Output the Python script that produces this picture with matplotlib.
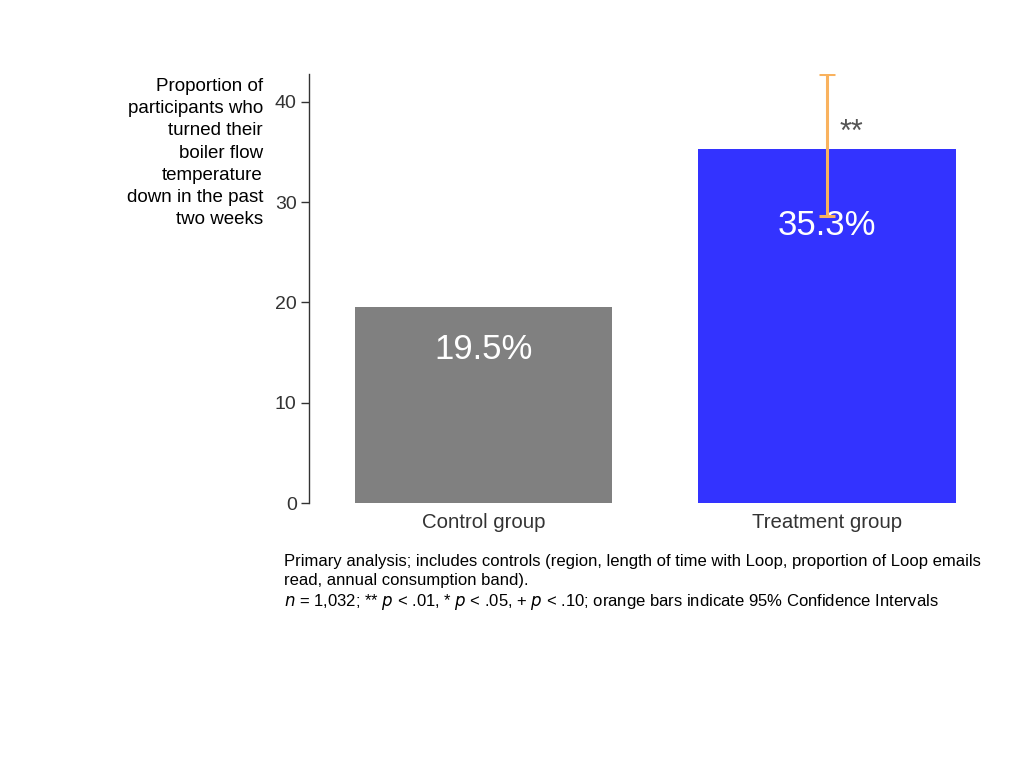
import matplotlib
matplotlib.use("Agg")
import matplotlib.pyplot as plt

categories = ["Control group", "Treatment group"]
values = [19.5, 35.3]
value_labels = ["19.5%", "35.3%"]
ci_low = [None, 28.6]
ci_high = [None, 42.8]
significance = ["", "**"]
yticks = [0, 10, 20, 30, 40]
bar_colors = ["#808080", "#3333FF"]

plt.rcParams['font.family'] = ['Liberation Sans', 'DejaVu Sans']

fig = plt.figure(figsize=(10.24, 7.68), dpi=100)
ax = fig.add_axes([0.302, 0.345, 0.645, 0.559])

x = list(range(len(categories)))
ax.bar(x, values, width=0.75, color=bar_colors, zorder=2)

for i, v in enumerate(values):
    ax.text(i, v * 0.785, value_labels[i], ha='center', va='center',
            color='white', fontsize=25)
    if ci_low[i] is not None:
        ax.errorbar([i], [v], yerr=[[v - ci_low[i]], [ci_high[i] - v]],
                    fmt='none', ecolor='#F9B25E', elinewidth=2.2,
                    capsize=6, capthick=2.2, zorder=3)
    if significance[i]:
        ax.text(i + 0.07, 36.9, significance[i], ha='center', va='center',
                color='#555555', fontsize=22)

ax.set_xlim(-0.508, 1.416)
ax.set_ylim(0, 42.8)
ax.set_yticks(yticks)
ax.set_yticklabels([str(t) for t in yticks], fontsize=14, color='#333333')
ax.set_xticks(x)
ax.set_xticklabels(categories, fontsize=14.7, color='#333333')
ax.tick_params(axis='x', length=0, pad=7)
ax.tick_params(axis='y', length=6, width=1, color='#333333', pad=3)
for s in ['top', 'right', 'bottom']:
    ax.spines[s].set_visible(False)
ax.spines['left'].set_color('#333333')
ax.spines['left'].set_linewidth(1)

fig.text(263 / 1024, 1 - 153 / 768,
         "Proportion of\nparticipants who\nturned their\nboiler flow\ntemperature\ndown in the past\ntwo weeks",
         ha='right', va='center', fontsize=13.5, linespacing=1.4, color='black')

fig.text(284 / 1024, 1 - 554 / 768,
         "Primary analysis; includes controls (region, length of time with Loop, proportion of Loop emails\n"
         "read, annual consumption band).\n"
         "$n$ = 1,032; ** $p$ < .01, * $p$ < .05, + $p$ < .10; orange bars indicate 95% Confidence Intervals",
         ha='left', va='top', fontsize=12, linespacing=1.3, color='black')

fig.savefig("out.png", dpi=100)
